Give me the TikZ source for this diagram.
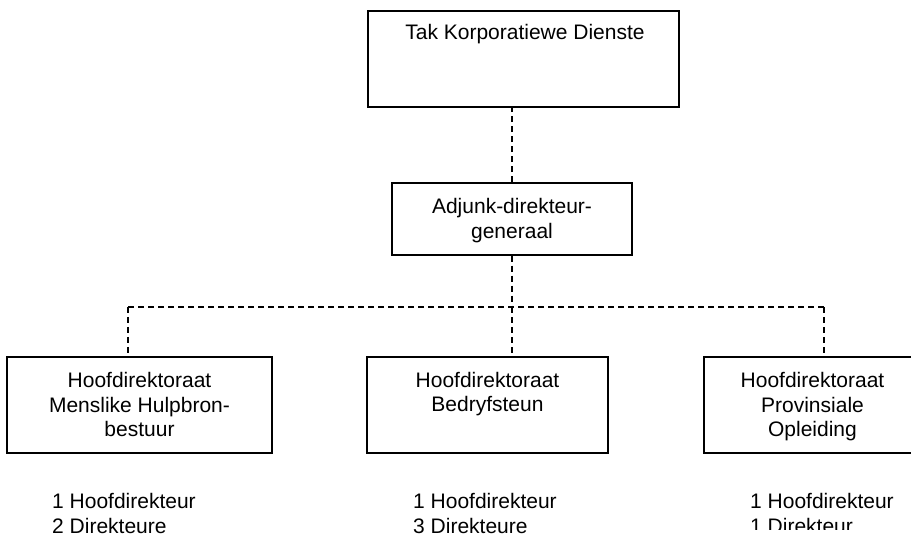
\documentclass[tikz,border=0pt]{standalone}
\usepackage{fontspec}
\setmainfont{Liberation Sans}
\begin{document}
\begin{tikzpicture}[x=1pt,y=-1pt,
  orgbox/.style={draw=black,line width=1.5pt,rectangle,inner sep=0pt,fill=white},
  link/.style={draw=black,line width=1.3pt,dash pattern=on 6pt off 4pt},
  lbl/.style={inner sep=0pt,font=\fontsize{21}{24.7}\selectfont,align=center,anchor=base},
  staff/.style={inner sep=0pt,font=\fontsize{21}{24.8}\selectfont,align=left,anchor=base west}]
\useasboundingbox (0,0) rectangle (911,537);
\clip (0,0) rectangle (911,537);
% boxes
\node[orgbox,minimum width=311pt,minimum height=96pt] (top) at (523.5,59) {};
\node[orgbox,minimum width=240pt,minimum height=72pt] (adj) at (512,219) {};
\node[orgbox,minimum width=265pt,minimum height=96pt] (left) at (139.5,405) {};
\node[orgbox,minimum width=241pt,minimum height=96pt] (mid) at (487.5,405) {};
\node[orgbox,minimum width=216pt,minimum height=96pt] (right) at (812,405) {};
% connectors
\coordinate (jL) at (128,307);
\coordinate (jM) at (512,307);
\coordinate (jR) at (824,307);
\draw[link] (adj.north) -- (adj.north |- top.south);
\draw[link] (adj.south) -- (jM);
\draw[link] (jL) -- (jR);
\draw[link] (jL) -- (jL |- left.north);
\draw[link] (jM) -- (jM |- mid.north);
\draw[link] (jR) -- (jR |- right.north);
% box texts (base anchor = baseline of last line)
\node[lbl] (ttop) at (525,40) {Tak Korporatiewe Dienste};
\node[lbl] (tadj) at (512,238.5) {Adjunk-direkteur-\\generaal};
\node[lbl] (tleft) at (139.5,437) {Hoofdirektoraat\\Menslike Hulpbron-\\bestuur};
\node[lbl] (tmid) at (487.5,412) {Hoofdirektoraat\\Bedryfsteun};
\node[lbl] (tright) at (812.5,437) {Hoofdirektoraat\\Provinsiale\\Opleiding};
% staff texts
\node[staff] (sleft) at (52,533) {1 Hoofdirekteur\\2 Direkteure};
\node[staff] (smid) at (413,533) {1 Hoofdirekteur\\3 Direkteure};
\begin{scope}
\clip (700,0) rectangle (911,529);
\node[staff] (sright) at (750,533) {1 Hoofdirekteur\\1 Direkteur};
\end{scope}
\end{tikzpicture}
\end{document}
